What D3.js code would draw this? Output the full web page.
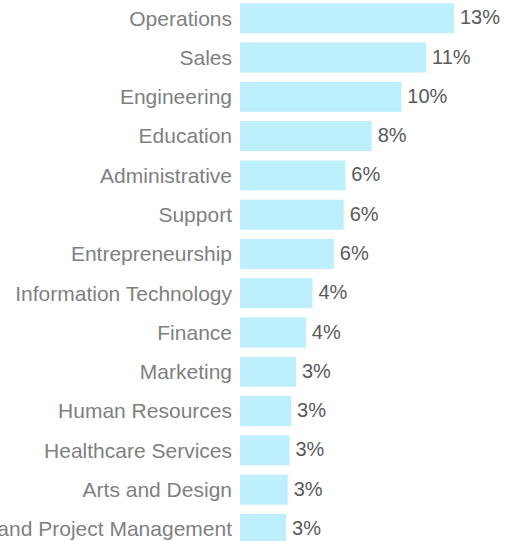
<!DOCTYPE html>
<html>
<head>
<meta charset="utf-8">
<script src="https://cdn.jsdelivr.net/npm/d3@7"></script>
<style>
  body { margin: 0; background: #fff; }
  .cat { fill: #7f7f7f; font-size: 21px; }
  .val { fill: #595959; font-size: 20px; }
</style>
</head>
<body>
<svg class="chart"></svg>
<script>
// data
var categories = ["Operations", "Sales", "Engineering", "Education", "Administrative",
  "Support", "Entrepreneurship", "Information Technology", "Finance", "Marketing",
  "Human Resources", "Healthcare Services", "Arts and Design", "Program and Project Management"];
var shares = [13.0, 11.3, 9.8, 8.0, 6.4, 6.3, 5.7, 4.4, 4.0, 3.4, 3.1, 3.0, 2.9, 2.8];

var width = 505, height = 541;
var left = 240;

var svg = d3.select(".chart")
    .attr("width", width)
    .attr("height", height)
    .style("font-family", "'Liberation Sans', Arial, sans-serif");

var x = d3.scaleLinear()
    .domain([0, 13])
    .range([left, left + 214]);

var y = d3.scaleBand()
    .domain(categories)
    .range([-6, 553.2])
    .padding(0.236);

var rows = svg.selectAll(".row")
    .data(categories)
  .enter().append("g")
    .attr("class", "row");

rows.append("rect")
    .attr("x", x(0))
    .attr("y", function(d) { return y(d); })
    .attr("width", function(d, i) { return x(shares[i]) - x(0); })
    .attr("height", y.bandwidth())
    .style("fill", "#bdeffc");

rows.append("text")
    .attr("class", "cat")
    .attr("x", left - 8)
    .attr("y", function(d) { return y(d) + y.bandwidth() / 2; })
    .attr("dy", "0.35em")
    .attr("text-anchor", "end")
    .text(function(d) { return d; });

rows.append("text")
    .attr("class", "val")
    .attr("x", function(d, i) { return x(shares[i]) + 6; })
    .attr("y", function(d) { return y(d) + y.bandwidth() / 2 - 1; })
    .attr("dy", "0.35em")
    .text(function(d, i) { return Math.round(shares[i]) + "%"; });
</script>
</body>
</html>
